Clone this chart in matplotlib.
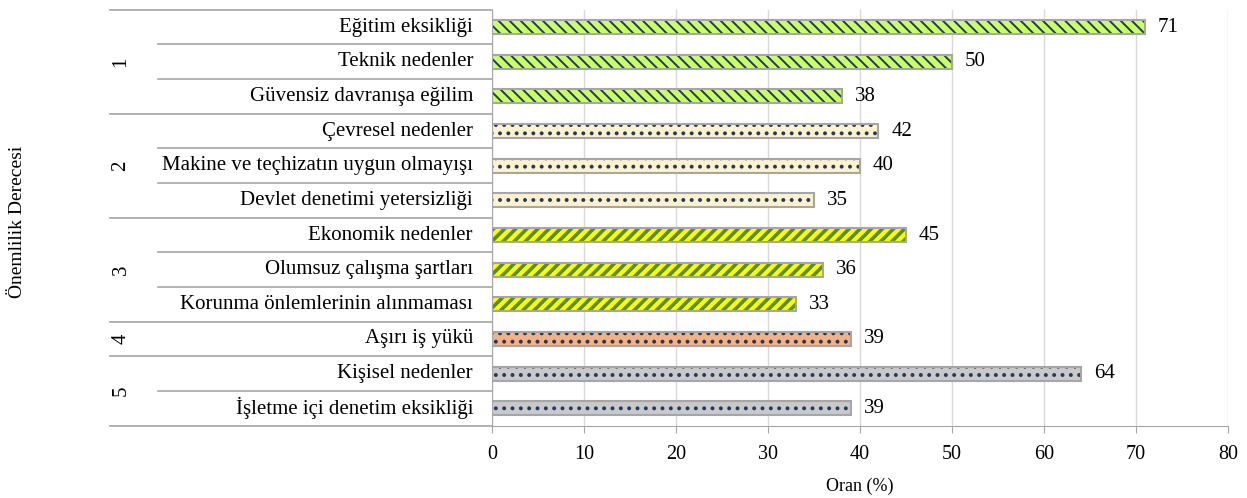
import numpy as np
import matplotlib
matplotlib.use("Agg")
import matplotlib.pyplot as plt
import matplotlib.transforms as mtransforms

plt.rcParams['font.family'] = ['Liberation Serif', 'DejaVu Serif']

categories = ['Eğitim eksikliği', 'Teknik nedenler', 'Güvensiz davranışa eğilim',
              'Çevresel nedenler', 'Makine ve teçhizatın uygun olmayışı',
              'Devlet denetimi yetersizliği', 'Ekonomik nedenler',
              'Olumsuz çalışma şartları', 'Korunma önlemlerinin alınmaması',
              'Aşırı iş yükü', 'Kişisel nedenler', 'İşletme içi denetim eksikliği']
values = [71, 50, 38, 42, 40, 35, 45, 36, 33, 39, 64, 39]
groups = ['1', '1', '1', '2', '2', '2', '3', '3', '3', '4', '5', '5']
group_names = ['1', '2', '3', '4', '5']

# fill, hatch colour, hatch, hatch width for each group
styles = {
    '1': ('#CCFF66', '#1F3864', '\\\\\\', 1.4),
    '2': ('#FFF2CC', '#1F3864', '..', 1.6),
    '3': ('#FFFF00', '#5B8C1E', '///', 2.6),
    '4': ('#F4B183', '#1F3864', '..', 1.6),
    '5': ('#C9C9C9', '#1F3864', '..', 1.6),
}

W, H = 1247, 498
x_left, x_right = 492, 1228
fig = plt.figure(figsize=(W / 100, H / 100), dpi=100)
ax = fig.add_axes([x_left / W, 0.1454, (x_right - x_left) / W, 0.835])

y = np.arange(len(categories))
for i, (cat, v, g) in enumerate(zip(categories, values, groups)):
    fc, hc, hatch, hlw = styles[g]
    plt.rcParams['hatch.linewidth'] = hlw
    ax.barh(y[i], v, height=0.4, color=fc, edgecolor=hc, hatch=hatch, linewidth=0, zorder=2)
    ax.barh(y[i], v, height=0.4, fill=False, edgecolor='#A6A6A6', linewidth=1.5, zorder=3)
    ax.text(v + 1.4, y[i], str(v), va='center', ha='left', fontsize=15)

ax.set_ylim(len(categories) - 0.5, -0.5)
ax.set_xlim(0, 80)
ax.set_xticks(range(0, 81, 10))
ax.tick_params(axis='x', labelsize=14.5, length=5, color='#A6A6A6', pad=9)
ax.set_yticks([])
ax.xaxis.grid(True, color='#D9D9D9', linewidth=1)
ax.set_axisbelow(True)
for s in ['top', 'right']:
    ax.spines[s].set_visible(False)
ax.spines['left'].set_color('#A6A6A6')
ax.spines['bottom'].set_color('#A6A6A6')
ax.set_xlabel('Oran (%)', fontsize=13, labelpad=10)

trans = mtransforms.blended_transform_factory(ax.transAxes, ax.transData)
span = x_right - x_left
x_group = (110 - x_left) / span
x_cat = (158 - x_left) / span
for i, cat in enumerate(categories):
    ax.text(-19 / span, y[i], cat, transform=trans, ha='right', va='center', fontsize=15)

# separator lines
for b in range(len(categories) + 1):
    yb = b - 0.5
    if b == 0 or b == len(categories) or groups[b] != groups[b - 1]:
        x0 = x_group
    else:
        x0 = x_cat
    ax.plot([x0, 0], [yb, yb], transform=trans, color='#A6A6A6', linewidth=1.2, clip_on=False)

# group labels
for g in group_names:
    idx = [i for i, gg in enumerate(groups) if gg == g]
    yc = np.mean(idx)
    ax.text((121 - x_left) / span, yc, g, transform=trans, rotation=90, ha='center', va='center', fontsize=15)

fig.text(18 / W, 1 - 222 / H, 'Önemlilik Derecesi', rotation=90, ha='center', va='center', fontsize=14)

fig.savefig('out.png', dpi=100)
